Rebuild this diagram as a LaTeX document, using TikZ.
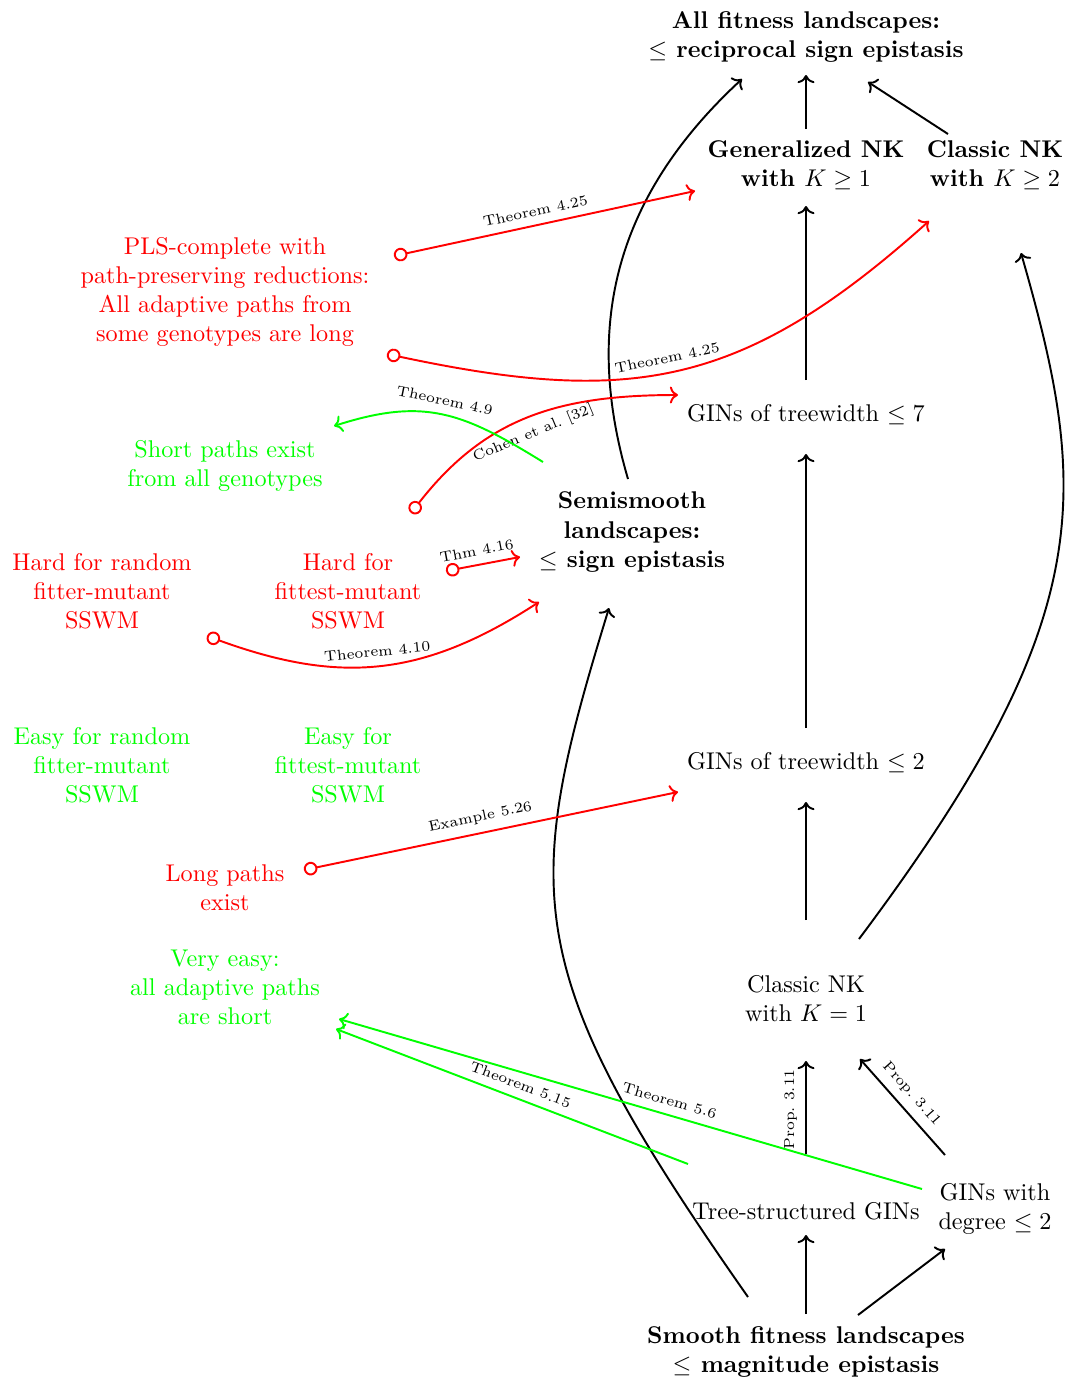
\documentclass[tikz,border=0pt]{standalone}
\usetikzlibrary{arrows.meta,calc}
\begin{document}
\begin{tikzpicture}[x=0.41322pt,y=-0.41322pt,
  every node/.style={align=center},
  strong/.style={font=\bfseries},
  hard/.style={text=red},
  easy/.style={text=green},
  imp/.style={thick,->},
  redimp/.style={thick,red,{Circle[open,length=5.6pt]}->},
  greenimp/.style={thick,green,->},
  lab/.style={font=\fontsize{6}{7}\selectfont,text=black,sloped}]
\useasboundingbox (0,-2) rectangle (1067,1378);

% ---- hierarchy of landscape classes ----
\node[strong] (all) at (806,35) {All fitness landscapes:\\$\leq$ reciprocal sign epistasis};
\node[strong] (gnk) at (806,163) {Generalized NK\\with $K\geq 1$};
\node[strong] (cnk2) at (995,163) {Classic NK\\with $K\geq 2$};
\node (tw7) at (806,413) {GINs of treewidth $\leq 7$};
\node[strong] (semi) at (632,530) {Semismooth\\landscapes:\\$\leq$ sign epistasis};
\node (tw2) at (806,761) {GINs of treewidth $\leq 2$};
\node (cnk1) at (806,997) {Classic NK\\with $K=1$};
\node (tree) at (806,1209) {Tree-structured GINs};
\node (deg) at (995,1207) {GINs with\\degree $\leq 2$};
\node[strong] (smooth) at (806,1350) {Smooth fitness landscapes\\$\leq$ magnitude epistasis};

% ---- complexity statements ----
\node[hard] (pls) at (225,290) {PLS-complete with\\path-preserving reductions:\\All adaptive paths from\\some genotypes are long};
\node[easy] (short) at (225,464) {Short paths exist\\from all genotypes};
\node[hard] (hardrand) at (102,589) {Hard for random\\fitter-mutant\\SSWM};
\node[hard] (hardfit) at (348,589) {Hard for\\fittest-mutant\\SSWM};
\node[easy] (easyrand) at (102,763) {Easy for random\\fitter-mutant\\SSWM};
\node[easy] (easyfit) at (348,763) {Easy for\\fittest-mutant\\SSWM};
\node[hard] (long) at (225,886) {Long paths\\exist};
\node[easy] (veasy) at (225,985) {Very easy:\\all adaptive paths\\are short};

% ---- tails of the hardness arrows ----
\coordinate (plsA) at ($(pls)+(169,-36)$);
\coordinate (plsB) at ($(pls)+(162,62)$);
\coordinate (cohen) at ($(short)+(186,47)$);
\coordinate (thmA) at ($(hardfit)+(98,-20)$);
\coordinate (thmB) at ($(hardrand)+(105,45)$);
\coordinate (longsrc) at ($(long)+(79,-18)$);

% ---- inclusions ----
\draw[imp] ($(gnk)+(0,-36)$) -- ($(all)+(0,38)$);
\draw[imp] ($(cnk2)+(-47,-31)$) -- ($(all)+(62,45)$);
\draw[imp] ($(tw7)+(0,-35)$) -- ($(gnk)+(0,41)$);
\draw[imp] ($(semi)+(-4,-53)$) .. controls +(-43,-147) and +(-132,122) .. ($(all)+(-64,42)$);
\draw[imp] ($(tw2)+(0,-35)$) -- ($(tw7)+(0,39)$);
\draw[imp] ($(cnk1)+(0,-79)$) -- ($(tw2)+(0,39)$);
\draw[imp] ($(cnk1)+(53,-60)$) .. controls +(240,-320) and +(69,240) .. ($(cnk2)+(26,88)$);
\draw[imp] ($(tree)+(0,-57)$) -- node[lab,above,pos=.48] {Prop.\ 3.11} ($(cnk1)+(0,62)$);
\draw[imp] ($(deg)+(-50,-54)$) -- node[lab,above,pos=.53] {Prop.\ 3.11} ($(cnk1)+(54,60)$);
\draw[imp] ($(smooth)+(0,-38)$) -- ($(tree)+(0,24)$);
\draw[imp] ($(smooth)+(52,-37)$) -- ($(deg)+(-50,40)$);
\draw[imp] ($(smooth)+(-58,-55)$) .. controls +(-230,-328) and +(-88,287) .. ($(semi)+(-23,76)$);

% ---- hardness results ----
\draw[redimp] (plsA) -- node[lab,above,pos=.48] {Theorem 4.25} ($(gnk)+(-111,26)$);
\draw[redimp] (plsB) .. controls +(244,52) and +(-186,167) .. ($(cnk2)+(-66,56)$)
  node[lab,above,pos=.48] {Theorem 4.25};
\draw[redimp] (cohen) .. controls +(74,-95) and +(-120,0) .. ($(tw7)+(-128,-20)$)
  node[lab,below,pos=.5] {Cohen et al.\ [32]};
\draw[redimp] (thmA) -- node[lab,above,pos=.45] {Thm 4.16} ($(semi)+(-112,25)$);
\draw[redimp] (thmB) .. controls +(132,48) and +(-117,76) .. ($(semi)+(-93,70)$)
  node[lab,above,pos=.5] {Theorem 4.10};
\draw[redimp] (longsrc) -- node[lab,above,pos=.48] {Example 5.26} ($(tw2)+(-128,29)$);

% ---- easiness results ----
\draw[greenimp] ($(semi)+(-89,-70)$) .. controls +(-81,-50) and +(90,-29) .. ($(short)+(109,-40)$)
  node[lab,above,pos=.5] {Theorem 4.9};
\draw[greenimp] ($(tree)+(-118,-47)$) -- node[lab,above,pos=.49] {Theorem 5.15} ($(veasy)+(111,42)$);
\draw[greenimp] ($(deg)+(-73,-20)$) -- node[lab,above,pos=.44] {Theorem 5.6} ($(veasy)+(114,32)$);
\end{tikzpicture}
\end{document}
